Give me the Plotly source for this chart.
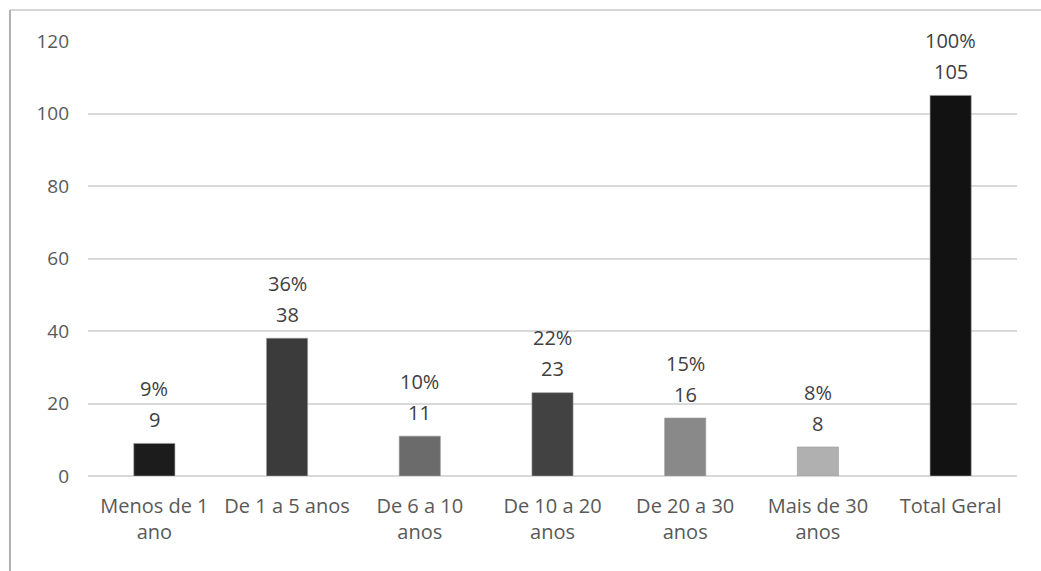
import plotly.graph_objects as go

categories = ["Menos de 1<br>ano", "De 1 a 5 anos", "De 6 a 10<br>anos", "De 10 a 20<br>anos",
              "De 20 a 30<br>anos", "Mais de 30<br>anos", "Total Geral"]
values = [9, 38, 11, 23, 16, 8, 105]
percents = ["9%", "36%", "10%", "22%", "15%", "8%", "100%"]
colors = ["#1c1c1c", "#3b3b3b", "#6b6b6b", "#424242", "#898989", "#b0b0b0", "#121212"]
y_ticks = [0, 20, 40, 60, 80, 100, 120]

FONT = "Open Sans"
x = list(range(len(categories)))

fig = go.Figure()
fig.add_trace(go.Bar(
    x=x, y=values, width=0.31,
    marker=dict(color=colors, line=dict(color="#9a9a9a", width=0.6)),
    hoverinfo="skip",
))

for i, (v, p) in enumerate(zip(values, percents)):
    fig.add_annotation(x=i, y=v, text=str(v), showarrow=False, yanchor="middle", yshift=24,
                       font=dict(family=FONT, size=20, color="#404040"))
    fig.add_annotation(x=i, y=v, text=p, showarrow=False, yanchor="middle", yshift=55,
                       font=dict(family=FONT, size=20, color="#404040"))

# outer frame (left and top edges)
fig.add_shape(type="line", xref="paper", yref="paper", x0=-0.084, x1=1.03, y0=1.071, y1=1.071,
              line=dict(color="#c8c8c8", width=1.5))
fig.add_shape(type="line", xref="paper", yref="paper", x0=-0.084, x1=-0.084, y0=1.071, y1=-0.25,
              line=dict(color="#b0b0b0", width=2))

fig.update_layout(
    width=1041, height=571,
    margin=dict(l=88, r=24, t=41, b=95),
    plot_bgcolor="white", paper_bgcolor="white",
    showlegend=False,
    xaxis=dict(tickmode="array", tickvals=x, ticktext=categories, range=[-0.5, 6.5],
               showgrid=False, showline=False, ticks="", zeroline=False,
               ticklabelstandoff=16,
               tickfont=dict(family=FONT, size=20, color="#595959")),
    yaxis=dict(range=[0, 120], tickvals=y_ticks, showgrid=True, gridcolor="#d9d9d9", gridwidth=1.5,
               zeroline=True, zerolinecolor="#d9d9d9", zerolinewidth=1.5, showline=False,
               ticks="", ticklabelstandoff=18,
               tickfont=dict(family=FONT, size=19, color="#595959")),
)

fig.write_html("out.html", config={"displayModeBar": False},
               post_script="document.body.style.margin='0';document.body.style.overflow='hidden';")
